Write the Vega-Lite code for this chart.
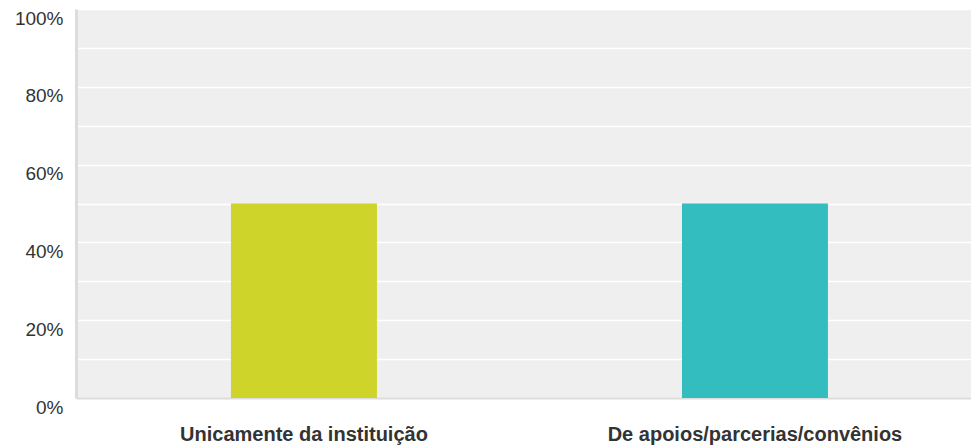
{
  "$schema": "https://vega.github.io/schema/vega-lite/v6.json",
  "autosize": {"type": "none"},
  "width": 895,
  "height": 389,
  "padding": {"left": 76, "top": 9, "right": 0, "bottom": 49},
  "background": "#ffffff",
  "config": {
    "view": {"fill": "#efefef", "stroke": null},
    "font": "Liberation Sans"
  },
  "data": {
    "values": [
      {"category": "Unicamente da instituição", "share": 0.5},
      {"category": "De apoios/parcerias/convênios", "share": 0.5}
    ]
  },
  "mark": {"type": "bar"},
  "encoding": {
    "x": {
      "field": "category",
      "type": "nominal",
      "sort": null,
      "scale": {"paddingInner": 0.6763, "paddingOuter": 0.3304, "align": 0.52},
      "axis": {
        "title": null,
        "labelAngle": 0,
        "labelLimit": 0,
        "labelFont": "Liberation Sans",
        "labelFontSize": 20,
        "labelFontWeight": "bold",
        "labelColor": "#333333",
        "labelBaseline": "top",
        "labelPadding": 26,
        "ticks": false,
        "domainColor": "#dcdcdc",
        "domainWidth": 2,
        "grid": false
      }
    },
    "y": {
      "field": "share",
      "type": "quantitative",
      "scale": {"domain": [0, 1], "nice": false},
      "axis": {
        "title": null,
        "values": [0, 0.1, 0.2, 0.3, 0.4, 0.5, 0.6, 0.7, 0.8, 0.9, 1],
        "labelExpr": "round(datum.value*100) % 20 == 0 ? format(datum.value, '.0%') : ''",
        "labelFont": "Liberation Sans",
        "labelFontSize": 19,
        "labelColor": "#333333",
        "labelBaseline": "middle",
        "labelOffset": 9,
        "labelPadding": 13,
        "ticks": false,
        "domainColor": "#dcdcdc",
        "domainWidth": 3,
        "grid": true,
        "gridColor": "#ffffff",
        "gridWidth": 1.5
      }
    },
    "color": {
      "field": "category",
      "type": "nominal",
      "sort": null,
      "scale": {
        "domain": ["Unicamente da instituição", "De apoios/parcerias/convênios"],
        "range": ["#cfd42a", "#33bdbf"]
      },
      "legend": null
    }
  }
}
